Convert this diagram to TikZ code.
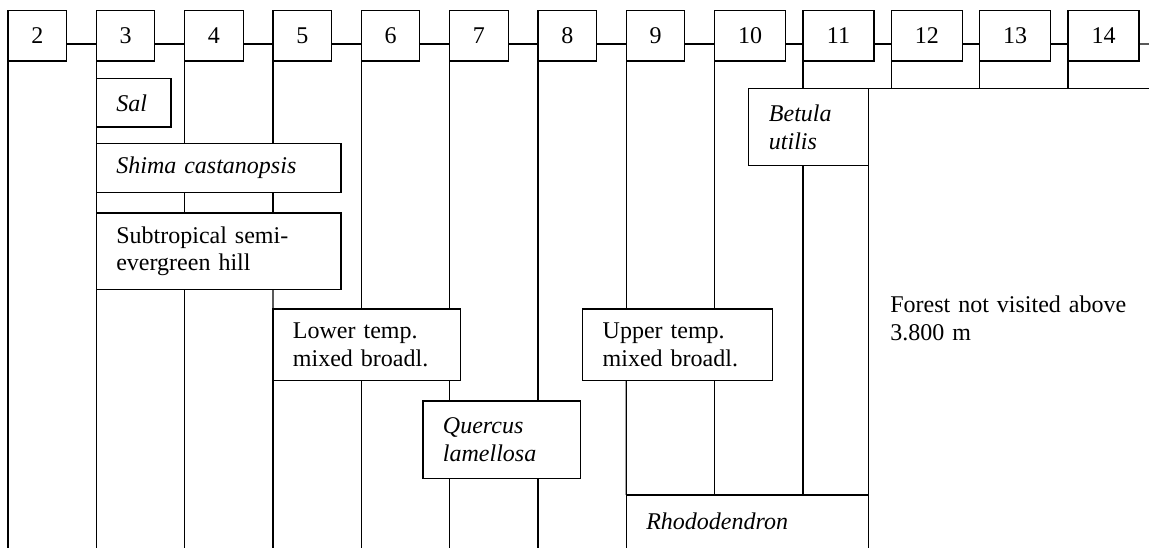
\documentclass[tikz,border=0pt]{standalone}
\usepackage{fontspec}
\setmainfont{Liberation Serif}
\tikzset{
  every node/.style={font=\fontsize{18}{20.8}\selectfont},
  ln/.style={line width=0.9pt},
  num/.style={draw, ln, rectangle, minimum width=43.875pt, minimum height=37.725pt, inner sep=0pt, outer sep=0pt},
  numw/.style={num, minimum width=53.25pt},
  bx/.style={draw, ln, rectangle, align=left, inner xsep=15pt, inner ysep=0pt, outer sep=0pt},
  reg/.style={rectangle, align=left, inner xsep=15pt, inner ysep=0pt, outer sep=0pt}
}
\begin{document}
\begin{tikzpicture}[x=0.75pt,y=-0.75pt]
\useasboundingbox (0,0) rectangle (1149,548);
% top row
\node[num]  (n2)  at (37.25,35.85)  {2};
\node[num]  (n3)  at (125.58,35.85) {3};
\node[num]  (n4)  at (213.92,35.85) {4};
\node[num]  (n5)  at (302.25,35.85) {5};
\node[num]  (n6)  at (390.58,35.85) {6};
\node[num]  (n7)  at (478.92,35.85) {7};
\node[num]  (n8)  at (567.25,35.85) {8};
\node[num]  (n9)  at (655.58,35.85) {9};
\node[numw] (n10) at (750.17,35.85) {10};
\node[numw] (n11) at (838.5,35.85)  {11};
\node[numw] (n12) at (926.83,35.85) {12};
\node[numw] (n13) at (1015.17,35.85) {13};
\node[numw] (n14) at (1103.5,35.85) {14};
\foreach \a/\b in {2/3,3/4,4/5,5/6,6/7,7/8,8/9,9/10,10/11,11/12,12/13,13/14}
  \draw[ln] ([yshift=-6.1pt]n\a.east) -- ([yshift=-6.1pt]n\b.west);
\coordinate (rend) at (1149,44);
\draw[ln] ([yshift=-6.1pt]n14.east) -- (rend);
% forest boxes
\node[bx, text width=26pt, minimum height=36.2pt] (sal) at (133.67,102.85) {\textit{Sal}};
\node[bx, text width=153.5pt, minimum height=36.75pt] (shima) at (218.67,167.8) {\textit{Shima castanopsis}};
\node[bx, text width=153.5pt, minimum height=57.2pt] (sub) at (218.67,251.15) {Subtropical semi-\\evergreen hill};
\node[bx, text width=110.8pt, minimum height=53.8pt] (lo) at (366.85,344.85) {Lower temp.\\mixed broadl.};
\node[bx, text width=112.5pt, minimum height=53.8pt] (up) at (677.7,344.85) {Upper temp.\\mixed broadl.};
\node[bx, text width=88.3pt, minimum height=58pt] (qu) at (501.85,439.65) {\textit{Quercus}\\\textit{lamellosa}};
\node[bx, inner xsep=15.5pt, text width=59pt, minimum height=57.9pt] (be) at (808.3,127.1) {\textit{Betula}\\\textit{utilis}};
\node[reg, text width=151.5pt, minimum height=39.75pt] (rh) at (747.3,521.5) {\textit{Rhododendron}};
\node[reg, inner xsep=16.5pt, text width=177.5pt, minimum height=344.6pt] (fo) at (1008.65,318.25) {Forest not visited above\\3.800 m};
\draw[ln] (rh.south west) -- (rh.north west) -- (rh.north east) -- (rh.south east);
\draw[ln] (fo.south west) -- (fo.north west) -- (fo.north east);
% vertical lines
\coordinate (bot) at (0,548);
\draw[ln] (n2.south west) -- (n2.south west |- bot);
\draw[ln] (n3.south west) -- (n3.south west |- bot);
\draw[ln] (n4.south west) -- (n4.south west |- shima.north);
\draw[ln] (n4.south west |- shima.south) -- (n4.south west |- sub.north);
\draw[ln] (n4.south west |- sub.south) -- (n4.south west |- bot);
\draw[ln] (n5.south west) -- (n5.south west |- shima.north);
\draw[ln] (n5.south west |- shima.south) -- (n5.south west |- sub.north);
\draw[ln] (n5.south west |- sub.south) -- (lo.north west);
\draw[ln] (lo.south west) -- (lo.south west |- bot);
\draw[ln] (n6.south west) -- (n6.south west |- lo.north);
\draw[ln] (n6.south west |- lo.south) -- (n6.south west |- bot);
\draw[ln] (n7.south west) -- (n7.south west |- lo.north);
\draw[ln] (n7.south west |- lo.south) -- (n7.south west |- qu.north);
\draw[ln] (n7.south west |- qu.south) -- (n7.south west |- bot);
\draw[ln] (n8.south west) -- (n8.south west |- qu.north);
\draw[ln] (n8.south west |- qu.south) -- (n8.south west |- bot);
\draw[ln] (n9.south west) -- (n9.south west |- up.north);
\draw[ln] (n9.south west |- up.south) -- (rh.north west);
\draw[ln] (n10.south west) -- (n10.south west |- up.north);
\draw[ln] (n10.south west |- up.south) -- (n10.south west |- rh.north);
\draw[ln] (n11.south west) -- (n11.south west |- be.north);
\draw[ln] (n11.south west |- be.south) -- (n11.south west |- rh.north);
\foreach \i in {12,13,14}
  \draw[ln] (n\i.south west) -- (n\i.south west |- fo.north);
\end{tikzpicture}
\end{document}
